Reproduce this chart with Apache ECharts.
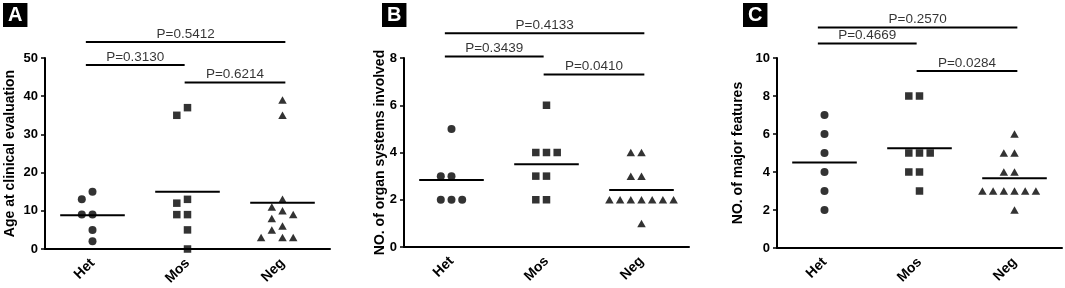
<!DOCTYPE html>
<html>
<head>
<meta charset="utf-8">
<script src="https://cdn.jsdelivr.net/npm/echarts@6/dist/echarts.min.js"></script>
<style>
  html, body { margin: 0; padding: 0; background: #fff; }
  #chart { width: 1065px; height: 288px; }
</style>
</head>
<body>
<div id="chart"></div>
<script>
var groups = ['Het', 'Mos', 'Neg'];

// A - age at clinical evaluation
var ageHet = [15, 13, 9, 9, 5, 2];
var ageMos = [37, 35, 13, 12, 9, 9, 5, 0];
var ageNeg = [39, 35, 13, 11, 10, 9, 8, 6, 5, 3, 3, 3];
// B - organ systems involved
var organHet = [5, 3, 3, 2, 2, 2];
var organMos = [6, 4, 4, 4, 3, 3, 2, 2];
var organNeg = [4, 4, 3, 3, 2, 2, 2, 2, 2, 2, 2, 1];
// C - major features
var majorHet = [7, 6, 5, 4, 3, 2];
var majorMos = [8, 8, 5, 5, 5, 4, 4, 3];
var majorNeg = [6, 5, 5, 4, 4, 3, 3, 3, 3, 3, 3, 2];

// comparisons: Het-Mos, Mos-Neg, Het-Neg
var pairs = [[0, 1], [1, 2], [0, 2]];
var pAge = ['P=0.3130', 'P=0.6214', 'P=0.5412'];
var pOrgan = ['P=0.3439', 'P=0.0410', 'P=0.4133'];
var pMajor = ['P=0.4669', 'P=0.0284', 'P=0.2570'];

var yMax = [50, 8, 10];
var yStep = [10, 2, 2];

var FONT = 'Liberation Sans, Arial, sans-serif';
var symbols = ['circle', 'rect', 'triangle'];
var symbolSizes = [8, 7.5, [8.5, 7.5]];

var panels = [
  { tag: 'A', tagLeft: 3, title: 'Age at clinical evaluation', data: [ageHet, ageMos, ageNeg], p: pAge,
    levels: [48.2, 43.6, 54.2], left: 45, top: 58, width: 285, height: 191, nameGap: 28 },
  { tag: 'B', tagLeft: 382, title: 'NO. of organ systems involved', data: [organHet, organMos, organNeg], p: pOrgan,
    levels: [8.06, 7.3, 9.05], left: 404, top: 58, width: 285, height: 189, nameGap: 17 },
  { tag: 'C', tagLeft: 743, title: 'NO. of major features', data: [majorHet, majorMos, majorNeg], p: pMajor,
    levels: [10.76, 9.32, 11.6], left: 777, top: 58, width: 285, height: 190, nameGap: 32 }
];

function mean(arr) {
  return arr.reduce(function (a, b) { return a + b; }, 0) / arr.length;
}

// spread points that would sit on top of each other, like a column scatter
function dodge(values, pxX, pxY) {
  var placed = [];
  return values.map(function (v) {
    for (var k = 0; k < 30; k++) {
      var slot = k === 0 ? 0 : (k % 2 ? -(k + 1) / 2 : k / 2);
      var clash = placed.some(function (q) {
        return q.slot === slot && Math.abs(q.v - v) * pxY < 9;
      });
      if (!clash) {
        placed.push({ slot: slot, v: v });
        return slot * 10.7 / pxX;
      }
    }
    return 0;
  });
}

var grids = [], xAxes = [], yAxes = [], series = [], titles = [];

panels.forEach(function (pn, k) {
  grids.push({ left: pn.left, top: pn.top, width: pn.width, height: pn.height });
  titles.push({
    text: pn.tag, left: pn.tagLeft, top: 3, backgroundColor: '#000', padding: [2, 5, 2, 5],
    textStyle: { color: '#fff', fontSize: 20, fontWeight: 'bold', fontFamily: FONT, lineHeight: 20 }
  });
  xAxes.push({
    type: 'category', gridIndex: k, data: groups, boundaryGap: true,
    axisLine: { onZero: false, lineStyle: { color: '#000', width: 2 } },
    axisTick: { alignWithLabel: true, length: 4, lineStyle: { color: '#000', width: 1.5 } },
    axisLabel: { rotate: 45, margin: 12, color: '#000', fontWeight: 'bold', fontSize: 14, fontFamily: FONT }
  });
  xAxes.push({ type: 'value', gridIndex: k, min: -0.5, max: 2.5, show: false });
  yAxes.push({
    type: 'value', gridIndex: k, min: 0, max: yMax[k], interval: yStep[k],
    name: pn.title, nameLocation: 'middle', nameGap: pn.nameGap, nameMoveOverlap: false,
    nameTextStyle: { color: '#000', fontWeight: 'bold', fontSize: 14, fontFamily: FONT },
    axisLine: { show: true, onZero: false, lineStyle: { color: '#000', width: 2 } },
    axisTick: { show: true, length: 4, lineStyle: { color: '#000', width: 1.5 } },
    axisLabel: { margin: 7, color: '#000', fontWeight: 'bold', fontSize: 13, fontFamily: FONT },
    splitLine: { show: false }
  });

  var pxX = pn.width / 3, pxY = pn.height / yMax[k];
  pn.data.forEach(function (vals, g) {
    var offs = dodge(vals, pxX, pxY);
    series.push({
      type: 'scatter', xAxisIndex: 2 * k + 1, yAxisIndex: k,
      symbol: symbols[g], symbolSize: symbolSizes[g],
      itemStyle: { color: '#000' },
      data: vals.map(function (v, i) { return [g + offs[i], v]; })
    });
    var m = mean(vals);
    series.push({
      type: 'line', xAxisIndex: 2 * k + 1, yAxisIndex: k, symbol: 'none',
      lineStyle: { color: '#000', width: 2 },
      data: [[g - 0.34, m], [g + 0.34, m]]
    });
  });

  var labels = [];
  pairs.forEach(function (pr, j) {
    var x1 = pr[0] === 0 ? pr[0] - 0.07 : pr[0] - 0.03;
    var x2 = pr[1] === 2 ? pr[1] + 0.03 : pr[1] - 0.03;
    var y = pn.levels[j];
    series.push({
      type: 'line', xAxisIndex: 2 * k + 1, yAxisIndex: k, symbol: 'none', clip: false,
      lineStyle: { color: '#000', width: 2 },
      data: [[x1, y], [x2, y]]
    });
    labels.push({ name: pn.p[j], value: [(x1 + x2) / 2, y] });
  });
  series.push({
    type: 'scatter', xAxisIndex: 2 * k + 1, yAxisIndex: k, symbolSize: 0, clip: false,
    label: {
      show: true, position: 'top', distance: 1, color: '#000', fontSize: 13.5, fontFamily: FONT,
      formatter: function (p) { return p.name; }
    },
    data: labels
  });
});

var myChart = echarts.init(document.getElementById('chart'));
myChart.setOption({
  animation: false,
  title: titles,
  grid: grids,
  xAxis: xAxes,
  yAxis: yAxes,
  series: series
});
</script>
</body>
</html>
